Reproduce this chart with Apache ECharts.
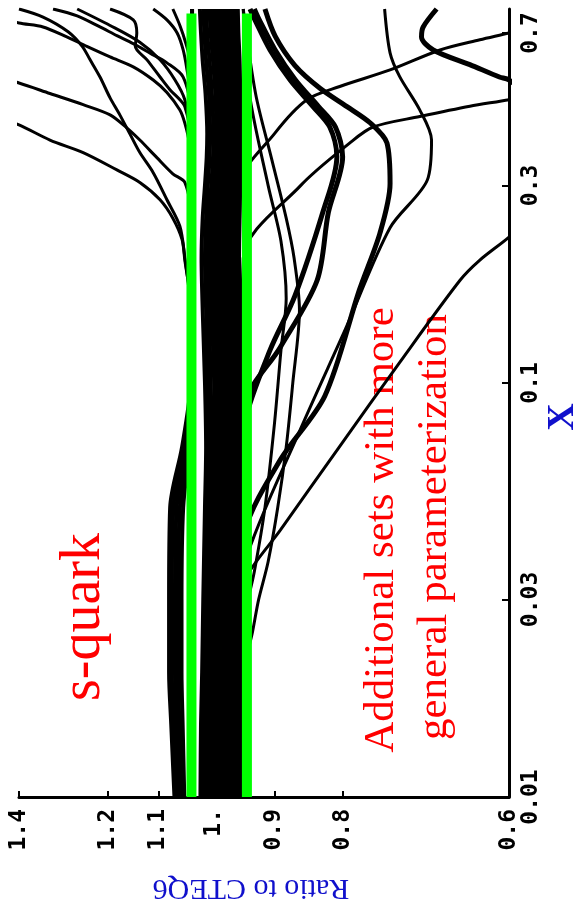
<!DOCTYPE html>
<html><head><meta charset="utf-8">
<script src="https://cdn.jsdelivr.net/npm/echarts@6/dist/echarts.min.js"></script>
<style>html,body{margin:0;padding:0;background:#fff}#c{width:578px;height:921px}</style>
</head><body><div id="c"></div>
<script>
// shared x grid for the band curves
const xs = [0.01, 0.015, 0.02, 0.03, 0.05, 0.07, 0.1, 0.15, 0.2, 0.25, 0.3, 0.35, 0.4, 0.5, 0.6, 0.7, 0.8];
// tick values and labels
const ratioTicks = [1.4, 1.2, 1.1, 1.0, 0.9, 0.8, 0.6];
const ratioTickLabels = ['1.4', '1.2', '1.1', '1.', '0.9', '0.8', '0.6'];
const xTicks = [0.01, 0.03, 0.1, 0.3, 0.7];
const xTickLabels = ['0.01', '0.03', '0.1', '0.3', '0.7'];
// green reference lines (ratio values) and their x extent
const greenUpper = 1.039;
const greenLower = 0.944;
const greenXRange = [0.01, 0.78];

// curves inside the central band (ratio at each xs)
const bandSets = [
  [1.023, 1.022, 1.020, 1.018, 1.015, 1.013, 1.015, 1.019, 1.021, 1.019, 1.015, 1.012, 1.011, 1.014, 1.019, 1.022, 1.024],
  [1.018, 1.017, 1.015, 1.013, 1.010, 1.008, 1.010, 1.013, 1.015, 1.013, 1.010, 1.007, 1.006, 1.008, 1.013, 1.016, 1.018],
  [1.013, 1.012, 1.010, 1.008, 1.005, 1.003, 1.005, 1.008, 1.010, 1.008, 1.004, 1.001, 1.000, 1.003, 1.007, 1.011, 1.013],
  [1.008, 1.007, 1.005, 1.003, 1.000, 0.998, 0.999, 1.003, 1.005, 1.003, 0.999, 0.996, 0.995, 0.997, 1.001, 1.005, 1.007],
  [1.003, 1.002, 1.000, 0.998, 0.996, 0.994, 0.995, 0.998, 1.000, 0.998, 0.994, 0.991, 0.990, 0.992, 0.996, 1.000, 1.002],
  [0.998, 0.997, 0.995, 0.993, 0.991, 0.989, 0.990, 0.993, 0.995, 0.993, 0.989, 0.986, 0.985, 0.987, 0.991, 0.995, 0.997],
  [0.993, 0.992, 0.990, 0.988, 0.986, 0.984, 0.985, 0.988, 0.990, 0.988, 0.984, 0.981, 0.980, 0.982, 0.986, 0.990, 0.992],
  [0.988, 0.987, 0.985, 0.983, 0.981, 0.979, 0.980, 0.983, 0.985, 0.983, 0.979, 0.976, 0.975, 0.977, 0.981, 0.985, 0.987],
  [0.983, 0.982, 0.980, 0.978, 0.976, 0.974, 0.975, 0.978, 0.980, 0.978, 0.974, 0.971, 0.970, 0.972, 0.976, 0.980, 0.982],
  [0.978, 0.977, 0.975, 0.973, 0.971, 0.969, 0.970, 0.973, 0.975, 0.973, 0.970, 0.967, 0.966, 0.968, 0.971, 0.975, 0.977],
  [0.973, 0.972, 0.970, 0.968, 0.966, 0.964, 0.965, 0.968, 0.970, 0.968, 0.965, 0.962, 0.961, 0.963, 0.966, 0.970, 0.972],
  [0.968, 0.967, 0.965, 0.963, 0.961, 0.960, 0.961, 0.963, 0.965, 0.963, 0.961, 0.959, 0.958, 0.959, 0.962, 0.965, 0.967],
  [0.963, 0.962, 0.961, 0.959, 0.958, 0.957, 0.958, 0.959, 0.960, 0.959, 0.957, 0.956, 0.956, 0.957, 0.959, 0.961, 0.962],
  [0.959, 0.958, 0.957, 0.956, 0.955, 0.955, 0.955, 0.956, 0.957, 0.956, 0.955, 0.954, 0.954, 0.955, 0.956, 0.958, 0.959]
];
// curves that sit high at small x (ratio at each xs)
const lowXSets = [
  [1.070, 1.076, 1.080, 1.080, 1.078, 1.056, 1.040, 1.038, 1.038, 1.038, 1.038, 1.038, 1.038, 1.038, 1.038, 1.038, 1.038],
  [1.066, 1.071, 1.075, 1.075, 1.072, 1.053, 1.039, 1.038, 1.038, 1.038, 1.038, 1.038, 1.038, 1.038, 1.038, 1.038, 1.038],
  [1.062, 1.066, 1.069, 1.069, 1.066, 1.050, 1.039, 1.038, 1.038, 1.038, 1.038, 1.038, 1.038, 1.038, 1.038, 1.038, 1.038],
  [1.057, 1.061, 1.063, 1.063, 1.060, 1.046, 1.039, 1.038, 1.038, 1.038, 1.038, 1.038, 1.038, 1.038, 1.038, 1.038, 1.038],
  [1.052, 1.055, 1.057, 1.057, 1.054, 1.043, 1.039, 1.038, 1.038, 1.038, 1.038, 1.038, 1.038, 1.038, 1.038, 1.038, 1.038]
];
// individually traced curves: [x, ratio] points
const upper1 = [[0.01,1.038],[0.1,1.038],[0.15,1.040],[0.201,1.051],[0.239,1.06],[0.277,1.084],[0.322,1.11],[0.36,1.136],[0.40,1.156],[0.444,1.176],[0.488,1.196],[0.548,1.217],[0.603,1.238],[0.65,1.255],[0.705,1.286],[0.765,1.343],[0.80,1.40]];
const upper2 = [[0.01,1.039],[0.3,1.039],[0.38,1.043],[0.424,1.051],[0.456,1.06],[0.503,1.084],[0.539,1.11],[0.58,1.149],[0.613,1.196],[0.65,1.245],[0.685,1.289],[0.724,1.343],[0.74,1.40],[0.8,1.55]];
const upper3 = [[0.01,1.038],[0.25,1.039],[0.305,1.051],[0.32,1.073],[0.35,1.103],[0.386,1.136],[0.413,1.162],[0.444,1.196],[0.47,1.253],[0.50,1.327],[0.53,1.40],[0.6,1.6]];
const upper4 = [[0.01,1.038],[0.15,1.039],[0.198,1.051],[0.222,1.056],[0.25,1.073],[0.277,1.097],[0.305,1.136],[0.327,1.182],[0.36,1.253],[0.386,1.327],[0.42,1.40],[0.5,1.6]];
const top1 = [[0.01,1.039],[0.45,1.040],[0.548,1.054],[0.593,1.084],[0.626,1.116],[0.66,1.149],[0.69,1.182],[0.724,1.217],[0.77,1.266],[0.80,1.32]];
const top2 = [[0.01,1.038],[0.4,1.040],[0.483,1.051],[0.539,1.069],[0.603,1.097],[0.665,1.136],[0.73,1.196],[0.80,1.266]];
const top3 = [[0.01,1.038],[0.4,1.041],[0.465,1.051],[0.483,1.06],[0.51,1.078],[0.548,1.097],[0.603,1.122],[0.65,1.145],[0.70,1.142],[0.753,1.149],[0.80,1.196]];
const top4 = [[0.01,1.039],[0.5,1.041],[0.57,1.047],[0.637,1.054],[0.70,1.065],[0.753,1.084],[0.80,1.11]];
const top5 = [[0.01,1.039],[0.6,1.042],[0.66,1.049],[0.73,1.06],[0.80,1.073]];
const right1 = [[0.01,0.965],[0.05,0.962],[0.081,0.947],[0.12,0.907],[0.162,0.869],[0.258,0.828],[0.352,0.808],[0.415,0.818],[0.465,0.842],[0.539,0.876],[0.637,0.907],[0.753,0.931],[0.80,0.939]];
const right2 = [[0.01,0.958],[0.03,0.955],[0.044,0.947],[0.0652,0.891],[0.093,0.825],[0.168,0.777],[0.23,0.75],[0.303,0.737],[0.38,0.741],[0.425,0.763],[0.465,0.794],[0.515,0.832],[0.585,0.869],[0.688,0.899],[0.80,0.915]];
const right3 = [[0.01,0.962],[0.025,0.958],[0.037,0.947],[0.077,0.861],[0.135,0.796],[0.237,0.737],[0.309,0.691],[0.386,0.686],[0.456,0.70],[0.55,0.725],[0.627,0.737],[0.80,0.744]];
const right4 = [[0.01,0.956],[0.06,0.952],[0.089,0.947],[0.122,0.891],[0.177,0.836],[0.258,0.820],[0.352,0.800],[0.415,0.810],[0.465,0.834],[0.539,0.868],[0.637,0.899],[0.753,0.924],[0.80,0.932]];
const diag1 = [[0.01,0.975],[0.025,0.972],[0.0336,0.947],[0.0441,0.891],[0.0703,0.804],[0.112,0.725],[0.177,0.653],[0.198,0.631],[0.225,0.60],[0.25,0.58]];
const mid1 = [[0.01,0.955],[0.02,0.949],[0.025,0.935],[0.03,0.925],[0.037,0.91],[0.05,0.895],[0.07,0.882],[0.1,0.872],[0.15,0.862],[0.2,0.87],[0.25,0.882],[0.35,0.905],[0.5,0.93],[0.8,0.95]];
const mid2 = [[0.01,0.957],[0.025,0.952],[0.035,0.932],[0.05,0.915],[0.08,0.9],[0.12,0.89],[0.16,0.882],[0.22,0.89],[0.3,0.91],[0.5,0.94],[0.8,0.95]];
const hook1 = [[0.45,0.56],[0.539,0.60],[0.548,0.61],[0.587,0.642],[0.637,0.684],[0.685,0.698],[0.724,0.696],[0.80,0.68]];
const cross1 = [[0.01,0.962],[0.3,0.955],[0.4,0.9],[0.483,0.851],[0.52,0.804],[0.57,0.737],[0.637,0.676],[0.674,0.631],[0.70,0.60],[0.72,0.58]];
const cross2 = [[0.01,0.96],[0.2,0.95],[0.3,0.86],[0.38,0.79],[0.415,0.759],[0.44,0.70],[0.466,0.642],[0.483,0.60],[0.5,0.57]];

const tracedThin = [upper1, upper2, upper3, upper4, top1, top2, top3, top4, top5, right3, diag1, mid1, mid2, cross1, cross2];
const tracedThick = [right1, right2, right4, hook1];

function toPairs(vals) { return vals.map((r, i) => [r, xs[i]]); }
function swap(pts) { return pts.map(p => [p[1], p[0]]); }
function lineSeries(data, w) {
  return { type: 'line', data: data, smooth: 0.3, symbol: 'none', silent: true,
           lineStyle: { color: '#000', width: w }, z: 2 };
}
const series = [];
bandSets.forEach(v => series.push(lineSeries(toPairs(v), 4)));
lowXSets.forEach(v => series.push(lineSeries(toPairs(v), 4)));
tracedThin.forEach(p => series.push(lineSeries(swap(p), 3)));
tracedThick.forEach(p => series.push(lineSeries(swap(p), 5)));
[greenUpper, greenLower].forEach(g => series.push({
  type: 'line', data: greenXRange.map(x => [g, x]), symbol: 'none', silent: true,
  lineStyle: { color: '#00ff00', width: 10 }, z: 5
}));

function labelFor(ticks, labels, v) {
  let best = 0;
  ticks.forEach((t, i) => { if (Math.abs(Math.log(t) - Math.log(v)) < Math.abs(Math.log(ticks[best]) - Math.log(v))) best = i; });
  return labels[best];
}
const tickFont = { fontFamily: 'DejaVu Sans Mono', fontWeight: 'bold', fontSize: 23, color: '#000' };

const chart = echarts.init(document.getElementById('c'), null, { renderer: 'canvas' });
chart.setOption({
  animation: false,
  backgroundColor: '#fff',
  grid: { left: 19, right: 69, top: 9, bottom: 124 },
  xAxis: {
    type: 'log', min: 0.6, max: 1.4, inverse: true, logBase: 10,
    axisLine: { show: true, lineStyle: { color: '#000', width: 3 } },
    axisTick: { show: true, inside: true, length: 6, lineStyle: { color: '#000', width: 2 }, customValues: ratioTicks },
    axisLabel: { show: true, rotate: 90, margin: 12, customValues: ratioTicks,
      formatter: v => labelFor(ratioTicks, ratioTickLabels, v), ...tickFont },
    splitLine: { show: false }, minorTick: { show: false }
  },
  yAxis: {
    type: 'log', min: 0.01, max: 0.8, position: 'right', logBase: 10,
    axisLine: { show: true, lineStyle: { color: '#000', width: 3 } },
    axisTick: { show: true, inside: true, length: 7, lineStyle: { color: '#000', width: 2 }, customValues: xTicks },
    axisLabel: { show: true, rotate: 90, margin: 11, customValues: xTicks,
      formatter: v => labelFor(xTicks, xTickLabels, v), ...tickFont },
    splitLine: { show: false }, minorTick: { show: false }
  },
  graphic: [
    { type: 'text', x: 251, y: 888, rotation: Math.PI, silent: true,
      style: { text: 'Ratio to CTEQ6', fill: '#1010cc', font: '30px "Liberation Serif"', textAlign: 'center', textVerticalAlign: 'middle' } },
    { type: 'text', x: 563, y: 417, rotation: Math.PI / 2, silent: true,
      style: { text: 'X', fill: '#1010cc', font: 'bold 38px "Liberation Serif"', textAlign: 'center', textVerticalAlign: 'middle' } },
    { type: 'text', x: 84, y: 617, rotation: Math.PI / 2, silent: true,
      style: { text: 's-quark', fill: '#ff0000', font: '56px "Liberation Serif"', textAlign: 'center', textVerticalAlign: 'middle' } },
    { type: 'text', x: 382, y: 530, rotation: Math.PI / 2, silent: true,
      style: { text: 'Additional sets with more', fill: '#ff0000', font: '43px "Liberation Serif"', textAlign: 'center', textVerticalAlign: 'middle' } },
    { type: 'text', x: 435, y: 527, rotation: Math.PI / 2, silent: true,
      style: { text: 'general parameterization', fill: '#ff0000', font: '43px "Liberation Serif"', textAlign: 'center', textVerticalAlign: 'middle' } }
  ],
  series: series
});
</script></body></html>
